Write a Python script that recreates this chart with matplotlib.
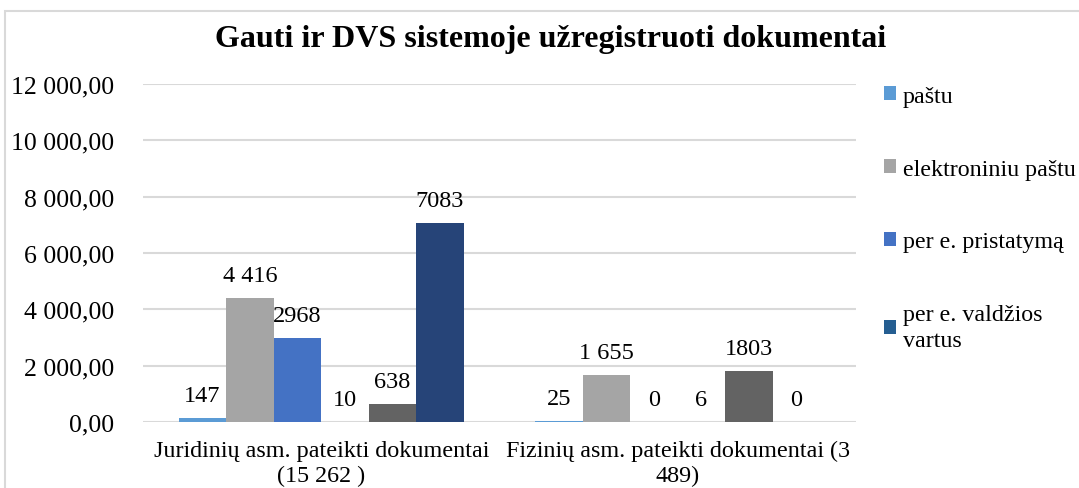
#!/usr/bin/env python3

import numpy
from matplotlib import pyplot
from matplotlib.patches import Rectangle

pyplot.rcParams["font.family"] = ["Liberation Serif", "DejaVu Serif"]

categories = ["Juridinių asm. pateikti dokumentai\n(15 262 )",
              "Fizinių asm. pateikti dokumentai (3\n489)"]
series_names = ["paštu", "elektroniniu paštu", "per e. pristatymą",
                "per e. valdžios\nvartus", "serija 5", "serija 6"]
values = [
    [147, 25],
    [4416, 1655],
    [2968, 0],
    [10, 6],
    [638, 1803],
    [7083, 0],
]
value_labels = [
    ["147", "25"],
    ["4 416", "1 655"],
    ["2968", "0"],
    ["10", "6"],
    ["638", "1803"],
    ["7083", "0"],
]
colors = ["#5B9BD5", "#A5A5A5", "#4472C4", "#255E91", "#636363", "#264478"]
yticks = [0, 2000, 4000, 6000, 8000, 10000, 12000]
ytick_labels = ["0,00", "2 000,00", "4 000,00", "6 000,00",
                "8 000,00", "10 000,00", "12 000,00"]

fig = pyplot.figure(figsize=(10.79, 4.89), dpi=100)
ax = fig.add_axes([0.1325, 0.135, 0.6608, 0.691])

# frame of the chart object (cut at right/bottom like the screenshot)
fig.patches.append(Rectangle((5 / 1079, -0.1), 1.2, 1.1 - 12 / 489,
                             transform=fig.transFigure, fill=False,
                             edgecolor="#D9D9D9", linewidth=1.5))

x = numpy.arange(len(categories))
n = len(values)
width = 0.8 / n
bars = []
for i in range(n):
    pos = x - 0.4 + width * (i + 0.5)
    b = ax.bar(pos, values[i], width, color=colors[i], zorder=3)
    bars.append(b)
    for j, p in enumerate(pos):
        ax.annotate(value_labels[i][j], (p, values[i][j]),
                    xytext=(0, 12), textcoords="offset pixels",
                    ha="center", va="bottom", fontsize=17.5, zorder=4)

ax.set_xlim(-0.5, 1.5)
ax.set_ylim(0, 12000)
ax.set_yticks(yticks)
ax.set_yticklabels(ytick_labels, fontsize=18.5)
ax.set_xticks(x)
ax.set_xticklabels(categories, fontsize=17.4, linespacing=1.25)
ax.tick_params(axis="y", length=0, pad=21)
ax.tick_params(axis="x", length=0, pad=13)
ax.grid(axis="y", color="#D9D9D9", linewidth=1.5, zorder=0)
for s in ax.spines.values():
    s.set_visible(False)

fig.text(0.51, 0.92, "Gauti ir DVS sistemoje užregistruoti dokumentai",
         ha="center", va="center", fontsize=23, fontweight="bold")

leg = fig.legend([b[0] for b in bars[:4]], series_names[:4],
                 loc="upper left", bbox_to_anchor=(0.81, 0.842),
                 frameon=False, fontsize=17.3, handlelength=0.5,
                 handleheight=0.5, handletextpad=0.3, labelspacing=2.15,
                 borderaxespad=0)
for t in leg.get_texts():
    t.set_linespacing(1.3)

pyplot.savefig("out.png", dpi=100)
